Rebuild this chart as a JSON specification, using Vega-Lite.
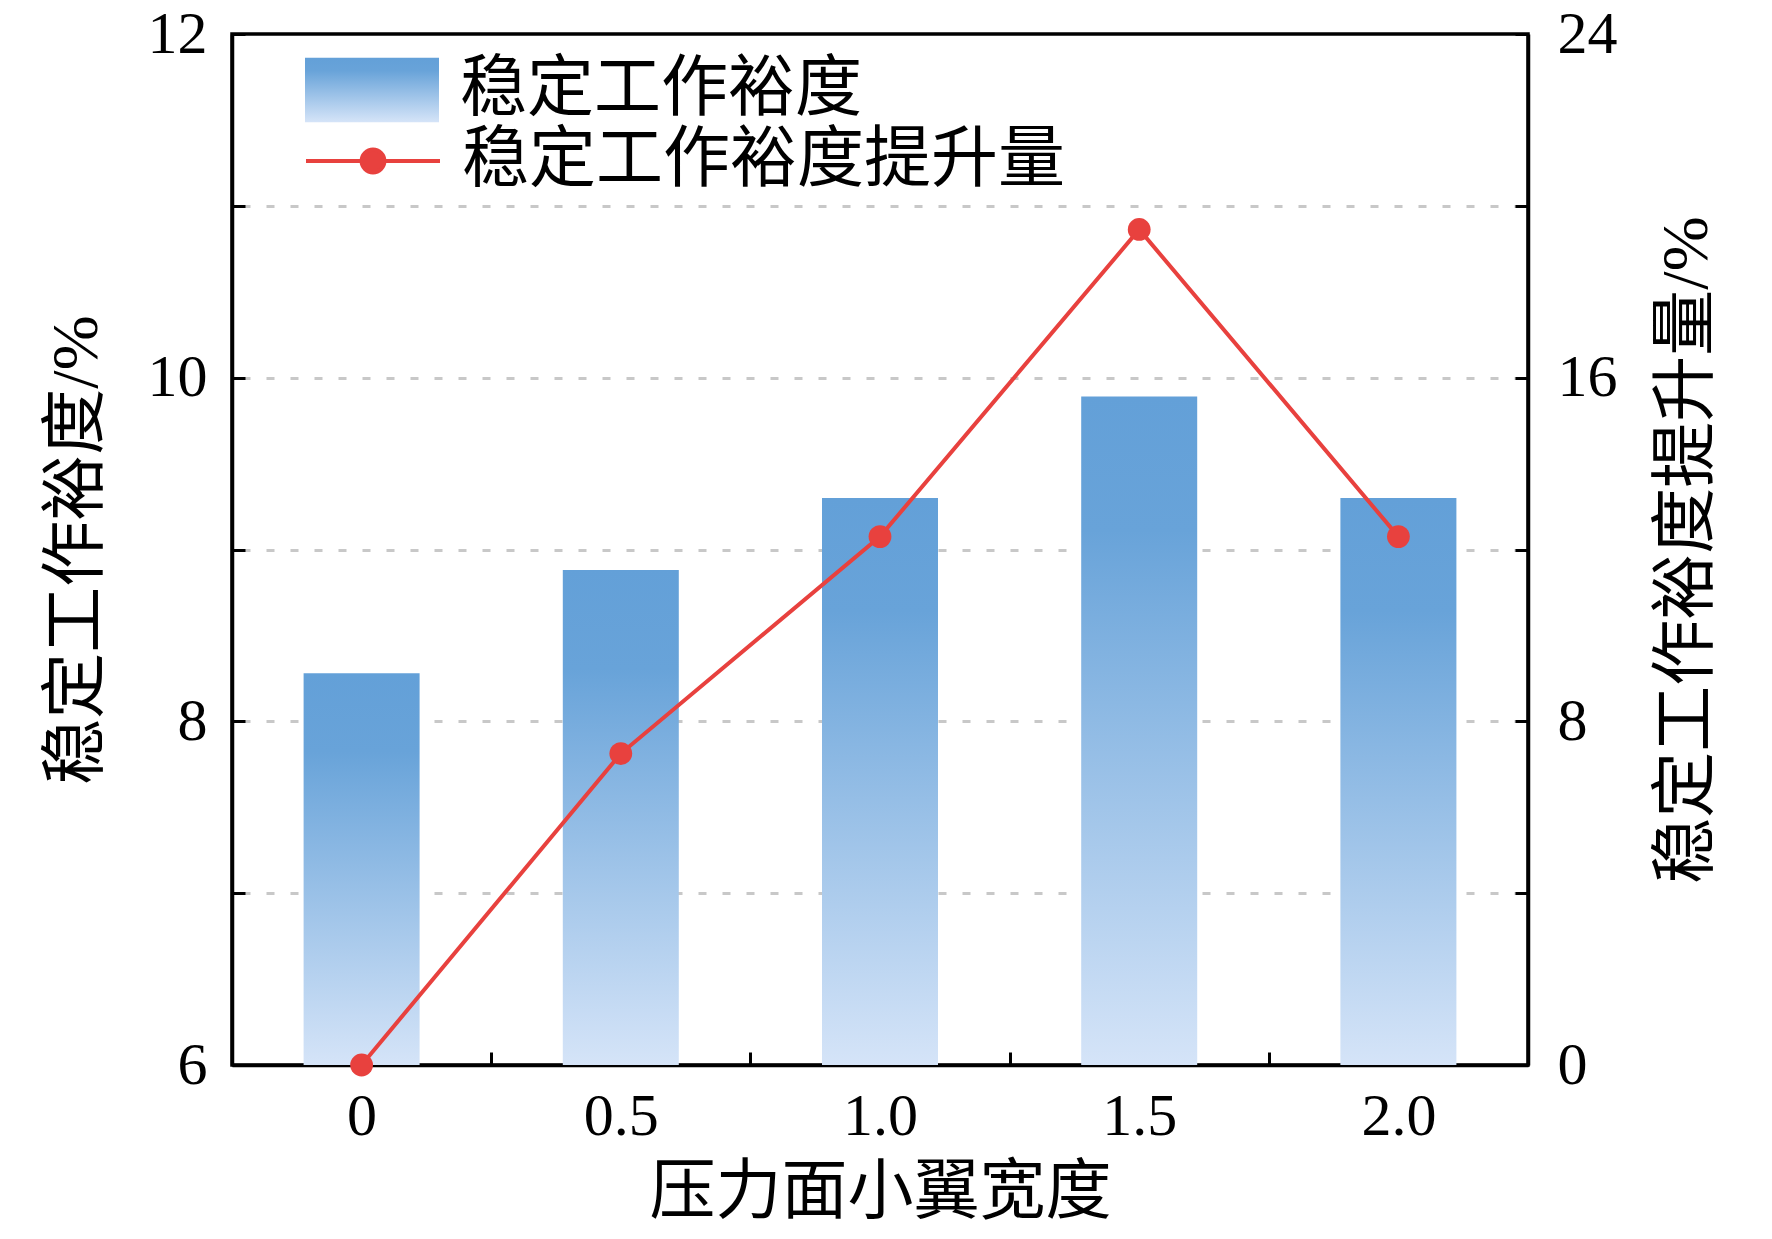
{
  "$schema": "https://vega.github.io/schema/vega-lite/v6.json",
  "width": 1296,
  "height": 1031,
  "autosize": {"type": "none"},
  "padding": {"left": 232, "top": 34, "right": 244, "bottom": 174},
  "background": "white",
  "config": {
    "view": {"stroke": "black", "strokeWidth": 3.5},
    "axis": {
      "domainColor": "black",
      "domainWidth": 3.5,
      "tickColor": "black",
      "tickWidth": 3,
      "labelFont": "Liberation Serif",
      "labelFontSize": 60,
      "labelColor": "black",
      "titleFont": "Liberation Serif, Noto Sans CJK SC",
      "titleFontSize": 66,
      "titleFontWeight": "normal",
      "titleColor": "black",
      "labelOverlap": false
    },
    "legend": {
      "labelFont": "Liberation Serif, Noto Sans CJK SC",
      "labelFontSize": 67,
      "labelColor": "black",
      "labelLimit": 0,
      "labelOffset": 20,
      "symbolSize": 17956
    }
  },
  "data": {
    "values": [
      {"w": 0, "margin": 8.28, "gain": 0},
      {"w": 0.5, "margin": 8.88, "gain": 7.25},
      {"w": 1.0, "margin": 9.3, "gain": 12.3},
      {"w": 1.5, "margin": 9.89, "gain": 19.45},
      {"w": 2.0, "margin": 9.3, "gain": 12.3}
    ]
  },
  "encoding": {
    "x": {
      "field": "w",
      "type": "quantitative",
      "scale": {"domain": [-0.25, 2.25], "nice": false, "zero": false, "padding": 0},
      "axis": {
        "title": "压力面小翼宽度",
        "values": [0, 0.25, 0.5, 0.75, 1.0, 1.25, 1.5, 1.75, 2.0],
        "labelExpr": "datum.value * 2 % 1 != 0 ? '' : (datum.value == 0 ? '0' : format(datum.value, '.1f'))",
        "tickSize": -13,
        "labelPadding": 35,
        "titlePadding": 14,
        "grid": false,
        "encode": {
          "ticks": {
            "update": {
              "y2": {"signal": "datum.value * 2 % 1 != 0 ? -9 : -13"}
            }
          }
        }
      }
    }
  },
  "layer": [
    {
      "mark": {
        "type": "bar",
        "width": 116,
        "color": {"gradient": "linear", "x1": 0, "y1": 0, "x2": 0, "y2": 1,
          "stops": [{"offset": 0, "color": "#63a0d8"}, {"offset": 0.2, "color": "#68a3d9"}, {"offset": 1, "color": "#d5e4f8"}]}
      },
      "encoding": {
        "y": {
          "field": "margin",
          "type": "quantitative",
          "scale": {"domain": [6, 12], "nice": false, "zero": false},
          "axis": {
            "orient": "left",
            "title": "稳定工作裕度/%",
            "values": [6, 7, 8, 9, 10, 11, 12],
            "labelExpr": "datum.value % 2 == 0 ? datum.label : ''",
            "tickSize": -13,
            "labelPadding": 38,
            "titlePadding": 37,
            "grid": true,
            "gridColor": "#c8c8c8",
            "gridWidth": 3,
            "gridDash": [8, 16],
            "gridDashOffset": -10,
            "gridOpacity": {"condition": {"test": "datum.value == 6 || datum.value == 12", "value": 0}, "value": 1}
          }
        },
        "y2": {"datum": 6},
        "opacity": {
          "datum": "稳定工作裕度",
          "type": "nominal",
          "scale": {"domain": ["稳定工作裕度"], "range": [1]},
          "legend": {
            "orient": "none",
            "legendX": 72,
            "legendY": -12,
            "title": null,
            "symbolType": "M-1,-0.48H1V0.48H-1Z",
            "encode": {
              "symbols": {
                "update": {
                  "shape": {"value": "M-1,-0.48H1V0.48H-1Z"},
                  "fill": {"value": {"gradient": "linear", "x1": 0, "y1": 0, "x2": 0, "y2": 1,
                    "stops": [{"offset": 0, "color": "#63a0d8"}, {"offset": 0.2, "color": "#68a3d9"}, {"offset": 1, "color": "#d5e4f8"}]}},
                  "stroke": {"value": "transparent"},
                  "opacity": {"value": 1},
                  "fillOpacity": {"value": 1}
                }
              }
            }
          }
        }
      }
    },
    {
      "mark": {"type": "line", "strokeWidth": 4, "point": {"filled": true, "size": 520, "opacity": 1}},
      "encoding": {
        "y": {
          "field": "gain",
          "type": "quantitative",
          "scale": {"domain": [0, 24], "nice": false, "zero": false},
          "axis": {
            "orient": "right",
            "title": "稳定工作裕度提升量/%",
            "titleAngle": -90,
            "titleBaseline": "top",
            "values": [0, 4, 8, 12, 16, 20, 24],
            "labelExpr": "datum.value % 8 == 0 ? datum.label : ''",
            "tickSize": -13,
            "labelPadding": 42,
            "titlePadding": 37,
            "grid": false
          }
        },
        "color": {
          "datum": "稳定工作裕度提升量",
          "type": "nominal",
          "scale": {"domain": ["稳定工作裕度提升量"], "range": ["#e8413e"]},
          "legend": {
            "orient": "none",
            "legendX": 72,
            "legendY": 58,
            "title": null,
            "symbolType": "M-1,0H1M-0.17,0A0.17,0.17 0 1,0 0.17,0A0.17,0.17 0 1,0 -0.17,0",
            "encode": {
              "symbols": {
                "update": {
                  "shape": {"value": "M-1,0H1M-0.17,0A0.17,0.17 0 1,0 0.17,0A0.17,0.17 0 1,0 -0.17,0"},
                  "fill": {"value": "#e8413e"},
                  "stroke": {"value": "#e8413e"},
                  "strokeWidth": {"value": 4},
                  "opacity": {"value": 1},
                  "fillOpacity": {"value": 1}
                }
              }
            }
          }
        }
      }
    }
  ],
  "resolve": {"scale": {"y": "independent"}}
}
